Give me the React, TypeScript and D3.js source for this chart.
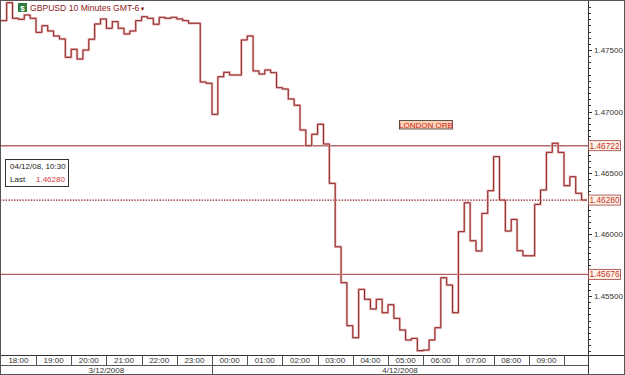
import React from "react";
import * as d3 from "d3";

// ---- data ----
const startTime = new Date(2008, 11, 3, 18, 0);
const barMinutes = 10;
const closes: number[] = [
  1.47739, 1.47885, 1.47758, 1.4775, 1.47785, 1.47758, 1.47644, 1.47698, 1.47655, 1.47614,
  1.4759, 1.47441, 1.47506, 1.47427, 1.475, 1.47588, 1.47712, 1.47753, 1.47677, 1.47731,
  1.47677, 1.47631, 1.47655, 1.47739, 1.47771, 1.47758, 1.4771, 1.47766, 1.47758, 1.47766,
  1.47753, 1.47739, 1.47718, 1.47718, 1.4724, 1.4723, 1.46977, 1.47283, 1.47319, 1.47297,
  1.47297, 1.47582, 1.47614, 1.4733, 1.47305, 1.47338, 1.47316, 1.47194, 1.47183, 1.47102,
  1.47051, 1.4685, 1.46722, 1.46815, 1.46896, 1.46736, 1.46416, 1.459, 1.45608, 1.45258,
  1.4516, 1.45554, 1.45473, 1.45394, 1.45473, 1.45364, 1.45429, 1.45318, 1.45223, 1.45142,
  1.45155, 1.45055, 1.4506, 1.45142, 1.45242, 1.45648, 1.45589, 1.45364, 1.46023, 1.46258,
  1.45949, 1.45866, 1.46172, 1.46356, 1.46633, 1.4628, 1.46028, 1.46123, 1.45868, 1.45827,
  1.45827, 1.46245, 1.46362, 1.46668, 1.46742, 1.46668, 1.46397, 1.4647, 1.46335, 1.4628,
];
const hourLabels = [
  "18:00", "19:00", "20:00", "21:00", "22:00", "23:00", "00:00", "01:00",
  "02:00", "03:00", "04:00", "05:00", "06:00", "07:00", "08:00", "09:00",
];
const dateLabels = ["3/12/2008", "4/12/2008"];
const priceTicks = [1.455, 1.46, 1.465, 1.47, 1.475];
const orbHigh = 1.46722;
const orbLow = 1.45676;
const lastPrice = 1.4628;
const title = "GBPUSD 10 Minutes GMT-6";
const infoDate = "04/12/08, 10:30";
const orbLabel = "LONDON ORB";

// ---- layout ----
const W = 625;
const H = 375;
const plotRight = 588;
const plotBottom = 355;
const font = "'Liberation Sans', Arial, sans-serif";

const addMin = (d: Date, m: number) => new Date(d.getTime() + m * 60000);

export default function App() {
  const endTime = addMin(startTime, closes.length * barMinutes);
  const x = d3
    .scaleTime()
    .domain([startTime, addMin(startTime, 16.5 * 60)])
    .range([0.8, 581.6]);
  const y = d3.scaleLinear().domain([1.4502, 1.47907]).range([plotBottom, 0]);

  const pts: [Date, number][] = closes.map((c, i) => [addMin(startTime, i * barMinutes), c]);
  pts.push([endTime, closes[closes.length - 1]]);
  const line = d3
    .line<[Date, number]>()
    .x((d) => Math.min(x(d[0]), plotRight - 1))
    .y((d) => y(d[1]))
    .curve(d3.curveStepAfter);
  const path = line(pts) || "";

  const hourBounds = d3.range(0, 17).map((h) => addMin(startTime, h * 60));
  const minorTicks = d3.range(0, 58).map((i) => 1.4505 + i * 0.0005).filter((v) => y(v) > 1 && y(v) < plotBottom - 1);
  const midnight = new Date(2008, 11, 4, 0, 0);

  const priceBox = (v: number, key: string) => (
    <g key={key}>
      <rect x={588.5} y={y(v) - 5} width={32} height={10} fill="#fff4e6" stroke="#9b3a3a" strokeWidth={0.8} />
      <text x={604.5} y={y(v) + 3} textAnchor="middle" fontSize={8.3} fill="#c62f2f" fontFamily={font}>
        {v.toFixed(5)}
      </text>
    </g>
  );

  return (
    <svg width={W} height={H} style={{ position: "absolute", left: 0, top: 0, background: "#fff" }}>
      <rect x={0} y={0} width={W} height={H} fill="#fff" />
      {/* orb lines */}
      <line x1={0} x2={plotRight} y1={y(orbHigh)} y2={y(orbHigh)} stroke="#b46a6a" strokeWidth={1.4} />
      <line x1={0} x2={plotRight} y1={y(orbLow)} y2={y(orbLow)} stroke="#a23a3a" strokeWidth={1} />
      <line x1={0} x2={plotRight} y1={y(lastPrice)} y2={y(lastPrice)} stroke="#8b1a1a" strokeWidth={1.2} strokeDasharray="1.4,1.4" />
      {/* price line */}
      <path d={path} fill="none" stroke="#e6b4b4" strokeWidth={2.4} />
      <path d={path} fill="none" stroke="#8e2424" strokeWidth={1} />

      {/* title */}
      <rect x={18} y={3} width={9} height={9} fill="#2c7d3e" />
      <text x={22.5} y={10.8} textAnchor="middle" fontSize={8} fontWeight="bold" fill="#fff" fontFamily={font}>$</text>
      <text x={30} y={10.5} fontSize={8.6} fill="#8b1a1a" fontFamily={font}>
        {title}
        <tspan fontSize={6}>▼</tspan>
      </text>

      {/* London ORB label */}
      <rect x={399.5} y={120.5} width={53} height={8.5} fill="#fbd3b4" stroke="#3a2a2a" strokeWidth={0.8} />
      <text x={426} y={127.6} textAnchor="middle" fontSize={8} fill="#d02424" fontFamily={font}>{orbLabel}</text>

      {/* info box */}
      <rect x={5.5} y={159.5} width={63} height={27} fill="#fff" stroke="#333" strokeWidth={1} />
      <text x={10} y={168.5} fontSize={8} fill="#222" fontFamily={font}>{infoDate}</text>
      <text x={10} y={181.5} fontSize={8} fill="#222" fontFamily={font}>Last</text>
      <text x={36} y={181.5} fontSize={8} fill="#d03a3a" fontFamily={font}>{lastPrice.toFixed(5)}</text>

      {/* right axis */}
      <line x1={plotRight + 0.5} x2={plotRight + 0.5} y1={0} y2={H} stroke="#333" strokeWidth={1} />
      {minorTicks.map((v, i) => (
        <line key={"m" + i} x1={plotRight} x2={plotRight + 3} y1={Math.round(y(v)) + 0.5} y2={Math.round(y(v)) + 0.5} stroke="#333" strokeWidth={1} />
      ))}
      {priceTicks.map((v) => (
        <g key={"t" + v}>
          <line x1={plotRight} x2={plotRight + 4} y1={Math.round(y(v)) + 0.5} y2={Math.round(y(v)) + 0.5} stroke="#333" />
          <text x={594} y={y(v) + 3} fontSize={8} fill="#333" fontFamily={font}>{v.toFixed(5)}</text>
        </g>
      ))}
      {priceBox(orbHigh, "bh")}
      {priceBox(lastPrice, "bl")}
      {priceBox(orbLow, "bo")}

      {/* bottom axis */}
      <line x1={0} x2={W} y1={plotBottom + 0.5} y2={plotBottom + 0.5} stroke="#333" />
      <line x1={0} x2={plotRight} y1={365.5} y2={365.5} stroke="#555" />
      {hourBounds.slice(1).map((d, i) => (
        <line key={"hb" + i} x1={Math.round(x(d)) + 0.5} x2={Math.round(x(d)) + 0.5} y1={plotBottom} y2={365} stroke="#555" />
      ))}
      {hourLabels.map((lab, i) => (
        <text
          key={"hl" + i}
          x={(x(hourBounds[i]) + x(hourBounds[i + 1])) / 2}
          y={363}
          textAnchor="middle"
          fontSize={8}
          fill="#333"
          fontFamily={font}
        >
          {lab}
        </text>
      ))}
      <line x1={Math.round(x(midnight)) + 0.5} x2={Math.round(x(midnight)) + 0.5} y1={365} y2={H} stroke="#555" />
      <text x={(x(startTime) + x(midnight)) / 2} y={373} textAnchor="middle" fontSize={8} fill="#333" fontFamily={font}>{dateLabels[0]}</text>
      <text x={(x(midnight) + plotRight) / 2} y={373} textAnchor="middle" fontSize={8} fill="#333" fontFamily={font}>{dateLabels[1]}</text>

      {/* outer frame */}
      <rect x={0.5} y={0.5} width={W - 1} height={H - 1} fill="none" stroke="#555" />
    </svg>
  );
}
